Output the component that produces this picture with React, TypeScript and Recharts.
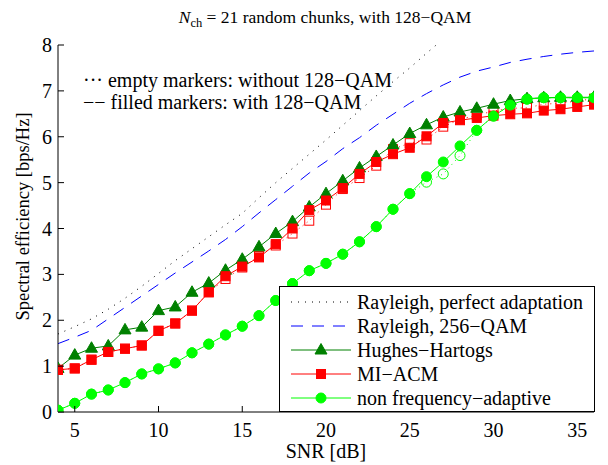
import React from 'react';
import { LineChart, Line, XAxis, YAxis, Legend, Label } from 'recharts';

// SNR grid [dB]
const snr = [4, 5, 6, 7, 8, 9, 10, 11, 12, 13, 14, 15, 16, 17, 18, 19, 20, 21, 22, 23, 24, 25, 26, 27, 28, 29, 30, 31, 32, 33, 34, 35, 36];

// Rayleigh bounds (perfect adaptation leaves the plot at ~26.5 dB)
const perfectAdaptation = [1.70, 1.86, 2.03, 2.24, 2.48, 2.74, 3.02, 3.30, 3.56, 3.82, 4.08, 4.33, 4.67, 5.0, 5.31, 5.62, 5.93, 6.25, 6.57, 6.89, 7.2, 7.5, 7.82, 8.13];
const rayleigh256 = [1.49, 1.63, 1.78, 2.03, 2.28, 2.53, 2.78, 3.03, 3.27, 3.51, 3.76, 4.04, 4.34, 4.63, 4.92, 5.21, 5.46, 5.74, 5.98, 6.25, 6.49, 6.73, 6.94, 7.13, 7.30, 7.43, 7.52, 7.62, 7.69, 7.75, 7.80, 7.84, 7.87];

// with 128-QAM (filled markers)
const hughesHartogs = [0.95, 1.24, 1.39, 1.44, 1.79, 1.85, 2.21, 2.29, 2.61, 2.81, 3.09, 3.33, 3.60, 3.89, 4.15, 4.47, 4.76, 5.04, 5.32, 5.57, 5.82, 6.07, 6.26, 6.43, 6.54, 6.62, 6.71, 6.79, 6.83, 6.85, 6.86, 6.86, 6.86];
const miAcm = [0.92, 0.95, 1.14, 1.31, 1.38, 1.45, 1.77, 1.93, 2.21, 2.61, 2.96, 3.17, 3.37, 3.66, 4.0, 4.40, 4.61, 4.88, 5.19, 5.45, 5.62, 5.76, 6.01, 6.30, 6.36, 6.41, 6.46, 6.49, 6.51, 6.57, 6.60, 6.65, 6.70];
const nonAdaptive = [0.04, 0.19, 0.39, 0.48, 0.64, 0.83, 0.94, 1.07, 1.29, 1.48, 1.68, 1.87, 2.10, 2.43, 2.80, 3.08, 3.24, 3.44, 3.71, 4.04, 4.42, 4.76, 5.13, 5.45, 5.80, 6.14, 6.45, 6.69, 6.82, 6.85, 6.85, 6.85, 6.85];

// without 128-QAM (empty markers)
const miAcmNo128 = [0.92, 0.95, 1.14, 1.31, 1.38, 1.45, 1.77, 1.93, 2.21, 2.61, 2.90, 3.15, 3.40, 3.63, 3.89, 4.17, 4.52, 4.86, 5.10, 5.37, 5.73, 5.86, 5.94, 6.22, 6.38, 6.47, 6.56, 6.62, 6.63, 6.71, 6.73, 6.78, 6.83];
const nonAdaptiveNo128 = [0.04, 0.19, 0.39, 0.48, 0.64, 0.83, 0.94, 1.07, 1.29, 1.48, 1.68, 1.87, 2.10, 2.43, 2.80, 3.08, 3.24, 3.44, 3.71, 4.04, 4.42, 4.76, 5.01, 5.19, 5.59, 6.14, 6.45, 6.69, 6.82, 6.85, 6.85, 6.85, 6.85];

const xTicks = [5, 10, 15, 20, 25, 30, 35];
const yTicks = [0, 1, 2, 3, 4, 5, 6, 7, 8];

const data = snr.map((s, i) => ({
  snr: s,
  perfect: perfectAdaptation[i] ?? null,
  qam256: rayleigh256[i],
  hh: hughesHartogs[i],
  mi: miAcm[i],
  na: nonAdaptive[i],
  miNo: miAcmNo128[i],
  naNo: nonAdaptiveNo128[i],
}));

const FONT = '"Liberation Serif", "Times New Roman", serif';
const DARK_GREEN = '#008000';
const RED = '#ff0000';
const LIME = '#00ff00';

type Shape = 'triangle' | 'square' | 'circle';

const markerEl = (shape: Shape, cx: number, cy: number, color: string, filled: boolean, key?: any) => {
  const fill = filled ? color : 'none';
  if (shape === 'triangle') {
    return <path key={key} d={`M${cx},${cy - 6.5}L${cx + 6},${cy + 4}L${cx - 6},${cy + 4}Z`} fill={fill} stroke={color} strokeWidth={1} />;
  }
  if (shape === 'square') {
    return <rect key={key} x={cx - 4.5} y={cy - 4.5} width={9} height={9} fill={fill} stroke={color} strokeWidth={1} />;
  }
  return <circle key={key} cx={cx} cy={cy} r={5} fill={fill} stroke={color} strokeWidth={1} />;
};

const dotRenderer = (shape: Shape, color: string, filled: boolean) => (props: any) => {
  const { cx, cy, index } = props;
  if (cx == null || cy == null || Number.isNaN(cy)) return <g key={index} />;
  return markerEl(shape, cx, cy, color, filled, index);
};

const BottomTick = (props: any) => {
  const { x, y, payload } = props;
  return (
    <g>
      <line x1={x} y1={y} x2={x} y2={y - 6} stroke="#000" />
      <text x={x} y={y + 25} textAnchor="middle" fontFamily={FONT} fontSize={20} fill="#000">{payload.value}</text>
    </g>
  );
};

const TopTick = (props: any) => {
  const { x, y } = props;
  return <line x1={x} y1={y} x2={x} y2={y + 6} stroke="#000" />;
};

const LeftTick = (props: any) => {
  const { x, y, payload } = props;
  return (
    <g>
      <line x1={x} y1={y} x2={x + 6} y2={y} stroke="#000" />
      <text x={x - 6} y={y} dy="0.35em" textAnchor="end" fontFamily={FONT} fontSize={20} fill="#000">{payload.value}</text>
    </g>
  );
};

const RightTick = (props: any) => {
  const { x, y } = props;
  return <line x1={x} y1={y} x2={x - 6} y2={y} stroke="#000" />;
};

const legendItems: { label: string; color: string; dash?: string; shape?: Shape }[] = [
  { label: 'Rayleigh, perfect adaptation', color: '#000', dash: '1 6' },
  { label: 'Rayleigh, 256\u2212QAM', color: '#0000ff', dash: '12 9' },
  { label: 'Hughes\u2212Hartogs', color: DARK_GREEN, shape: 'triangle' },
  { label: 'MI\u2212ACM', color: RED, shape: 'square' },
  { label: 'non frequency\u2212adaptive', color: LIME, shape: 'circle' },
];

const LegendBox = () => (
  <div
    style={{
      boxSizing: 'border-box',
      width: 316,
      height: 126,
      border: '1px solid #000',
      background: '#fff',
      paddingTop: 3,
      fontFamily: FONT,
      fontSize: 20,
    }}
  >
    {legendItems.map((it) => (
      <div key={it.label} style={{ display: 'flex', alignItems: 'center', height: 24 }}>
        <svg width={60} height={24} style={{ marginLeft: 11, marginRight: 6 }}>
          <line x1={0} y1={12} x2={60} y2={12} stroke={it.color} strokeDasharray={it.dash} strokeWidth={1} />
          {it.shape ? markerEl(it.shape, 30, 12, it.color, true) : null}
        </svg>
        <span style={{ lineHeight: '24px', whiteSpace: 'nowrap' }}>{it.label}</span>
      </div>
    ))}
  </div>
);

const App: React.FC = () => {
  return (
    <div style={{ position: 'relative', width: 600, height: 457, background: '#fff' }}>
      <LineChart width={600} height={457} data={data} margin={{ top: 37, right: 14, bottom: 23, left: 10 }}>
        <XAxis
          dataKey="snr"
          type="number"
          domain={[4, 36]}
          ticks={xTicks}
          allowDataOverflow
          height={30}
          tickSize={0}
          tickMargin={0}
          tick={<BottomTick />}
          axisLine={{ stroke: '#000' }}
          tickLine={false}
        >
          <Label
            content={(p: any) => {
              const vb = p.viewBox;
              return (
                <text x={vb.x + vb.width / 2} y={450} textAnchor="middle" fontFamily={FONT} fontSize={20} fill="#000">
                  SNR [dB]
                </text>
              );
            }}
          />
        </XAxis>
        <XAxis
          xAxisId="top"
          dataKey="snr"
          orientation="top"
          type="number"
          domain={[4, 36]}
          ticks={xTicks}
          allowDataOverflow
          height={0}
          tickSize={0}
          tickMargin={0}
          tick={<TopTick />}
          axisLine={{ stroke: '#000' }}
          tickLine={false}
        />
        <YAxis
          type="number"
          domain={[0, 8]}
          ticks={yTicks}
          allowDataOverflow
          width={40}
          tickSize={0}
          tickMargin={0}
          tick={<LeftTick />}
          axisLine={{ stroke: '#000' }}
          tickLine={false}
        >
          <Label
            content={(p: any) => {
              const vb = p.viewBox;
              const x = vb.x + 11;
              const y = vb.y + vb.height / 2 - 12;
              return (
                <text x={x} y={y} transform={`rotate(-90, ${x}, ${y})`} textAnchor="middle" fontFamily={FONT} fontSize={18.5} fill="#000">
                  Spectral efficiency [bps/Hz]
                </text>
              );
            }}
          />
        </YAxis>
        <YAxis
          yAxisId="right"
          orientation="right"
          type="number"
          domain={[0, 8]}
          ticks={yTicks}
          allowDataOverflow
          width={0}
          tickSize={0}
          tickMargin={0}
          tick={<RightTick />}
          axisLine={{ stroke: '#000' }}
          tickLine={false}
        />

        <Line dataKey="perfect" type="linear" stroke="#000" strokeWidth={1} strokeDasharray="1 6" dot={false} activeDot={false} isAnimationActive={false} legendType="none" />
        <Line dataKey="qam256" type="linear" stroke="#0000ff" strokeWidth={1} strokeDasharray="12 9" dot={false} activeDot={false} isAnimationActive={false} legendType="none" />

        <Line dataKey="miNo" type="linear" stroke={RED} strokeWidth={1} strokeDasharray="1 4" dot={dotRenderer('square', RED, false)} activeDot={false} isAnimationActive={false} legendType="none" />
        <Line dataKey="naNo" type="linear" stroke={LIME} strokeWidth={1} strokeDasharray="1 4" dot={dotRenderer('circle', LIME, false)} activeDot={false} isAnimationActive={false} legendType="none" />

        <Line dataKey="hh" type="linear" stroke={DARK_GREEN} strokeWidth={1} dot={dotRenderer('triangle', DARK_GREEN, true)} activeDot={false} isAnimationActive={false} legendType="none" />
        <Line dataKey="mi" type="linear" stroke={RED} strokeWidth={1} dot={dotRenderer('square', RED, true)} activeDot={false} isAnimationActive={false} legendType="none" />
        <Line dataKey="na" type="linear" stroke={LIME} strokeWidth={1} dot={dotRenderer('circle', LIME, true)} activeDot={false} isAnimationActive={false} legendType="none" />

        <Legend
          layout="vertical"
          align="center"
          verticalAlign="middle"
          content={() => <LegendBox />}
          wrapperStyle={{ position: 'absolute', left: 271, top: 278, width: 316, height: 126 }}
        />
      </LineChart>

      <svg width={600} height={457} style={{ position: 'absolute', left: 0, top: 0, pointerEvents: 'none' }}>
        <text x={317} y={15} textAnchor="middle" fontFamily={FONT} fontSize={17.5} fill="#000">
          <tspan fontStyle="italic">N</tspan>
          <tspan fontSize={12.5} dy={4}>ch</tspan>
          <tspan dy={-4}> = 21 random chunks, with 128{'\u2212'}QAM</tspan>
        </text>
        <text x={75} y={79} fontFamily={FONT} fontSize={20} fill="#000">
          {'\u00b7\u00b7\u00b7 empty markers: without 128\u2212QAM'}
        </text>
        <text x={75} y={100.5} fontFamily={FONT} fontSize={20} fill="#000">
          {'\u2212\u2212 filled markers: with 128\u2212QAM'}
        </text>
      </svg>
    </div>
  );
};

export default App;
